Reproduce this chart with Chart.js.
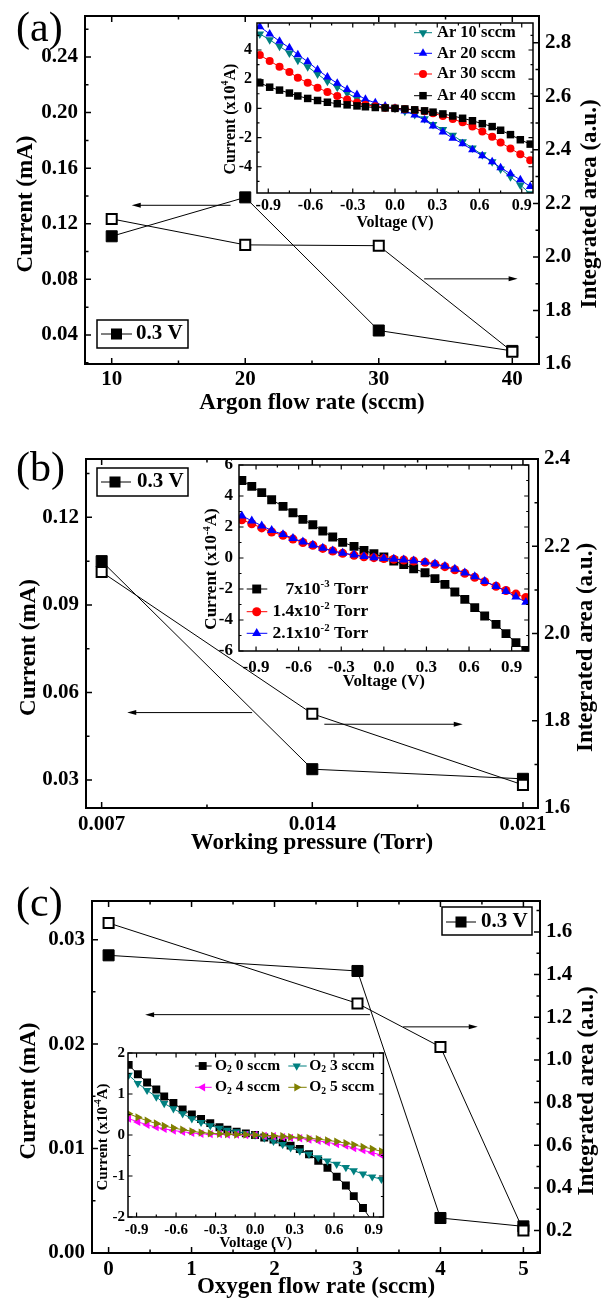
<!DOCTYPE html>
<html>
<head>
<meta charset="utf-8">
<title>Current and integrated area vs deposition conditions</title>
<script src="https://cdn.jsdelivr.net/npm/chart.js@4.4.1/dist/chart.umd.min.js"></script>
<style>
  body { margin: 0; background: #fff; }
  #page { position: relative; width: 612px; height: 1301px; overflow: hidden; background: #fff; }
  canvas { position: absolute; }
  .tag { position: absolute; font: 42px/42px "Liberation Serif", "Times New Roman", serif; color: #000; }
</style>
</head>
<body>
<div id="page">
  <canvas id="mainA" width="612" height="420" style="left:0;top:0"></canvas>
  <canvas id="insetA" width="340" height="219" style="left:200px;top:15px"></canvas>
  <canvas id="mainB" width="612" height="440" style="left:0;top:420px"></canvas>
  <canvas id="insetB" width="355" height="239" style="left:180px;top:455px"></canvas>
  <canvas id="mainC" width="612" height="441" style="left:0;top:860px"></canvas>
  <canvas id="insetC" width="309" height="208" style="left:80px;top:1045px"></canvas>
  <div class="tag" style="left:16px;top:6px">(a)</div>
  <div class="tag" style="left:16px;top:446px">(b)</div>
  <div class="tag" style="left:16px;top:881px">(c)</div>
</div>
<script>
// (a) argon flow rate
const argonFlow = [10, 20, 30, 40];
const argonCurrent = [0.111, 0.139, 0.0432, 0.0285];
const argonArea = [2.142, 2.045, 2.042, 1.646];
const argonXTicks = [10, 20, 30, 40];
const argonYTicks = [0.04, 0.08, 0.12, 0.16, 0.20, 0.24];
const argonY2Ticks = [1.6, 1.8, 2.0, 2.2, 2.4, 2.6, 2.8];

// (b) working pressure
const pressure = [0.007, 0.014, 0.021];
const pressureCurrent = [0.105, 0.0337, 0.0304];
const pressureArea = [2.141, 1.816, 1.653];
const pressureXTicks = [0.007, 0.014, 0.021];
const pressureYTicks = [0.03, 0.06, 0.09, 0.12];
const pressureY2Ticks = [1.6, 1.8, 2.0, 2.2, 2.4];

// (c) oxygen flow rate
const oxygenFlow = [0, 3, 4, 5];
const oxygenCurrent = [0.0285, 0.027, 0.00335, 0.00255];
const oxygenArea = [1.642, 1.265, 1.061, 0.2];
const oxygenXTicks = [0, 1, 2, 3, 4, 5];
const oxygenYTicks = [0, 0.01, 0.02, 0.03];
const oxygenY2Ticks = [0.2, 0.4, 0.6, 0.8, 1.0, 1.2, 1.4, 1.6];

// inset I-V curves
const voltsAC = [-0.96, -0.89, -0.82, -0.75, -0.69, -0.62, -0.55, -0.48, -0.41, -0.34, -0.27, -0.21, -0.14, -0.07, 0,
  0.07, 0.14, 0.21, 0.27, 0.34, 0.41, 0.48, 0.55, 0.62, 0.69, 0.75, 0.82, 0.89, 0.96];
const voltsB = [-1.0, -0.93, -0.86, -0.79, -0.71, -0.64, -0.57, -0.5, -0.43, -0.36, -0.29, -0.21, -0.14, -0.07, 0,
  0.07, 0.14, 0.21, 0.29, 0.36, 0.43, 0.5, 0.57, 0.64, 0.71, 0.79, 0.86, 0.93, 1.0];

const ar10 = [5.1, 4.7, 4.25, 3.8, 3.3, 2.85, 2.35, 1.85, 1.45, 1.05, 0.68, 0.36, 0.17, 0.07, 0,
  -0.2, -0.42, -0.72, -1.1, -1.45, -1.85, -2.28, -2.72, -3.18, -3.65, -4.15, -4.68, -5.25, -5.85];
const ar20 = [5.6, 5.1, 4.6, 4.15, 3.68, 3.2, 2.65, 2.15, 1.72, 1.3, 0.95, 0.62, 0.38, 0.16, 0,
  -0.18, -0.45, -0.8, -1.2, -1.62, -2.05, -2.43, -2.84, -3.25, -3.66, -4.07, -4.48, -4.9, -5.35];
const ar30 = [3.65, 3.25, 2.85, 2.5, 2.1, 1.75, 1.42, 1.12, 0.85, 0.6, 0.4, 0.25, 0.14, 0.05, 0,
  -0.05, -0.11, -0.2, -0.34, -0.52, -0.73, -0.96, -1.25, -1.58, -1.95, -2.34, -2.75, -3.15, -3.55];
const ar40 = [1.75, 1.45, 1.25, 1.05, 0.85, 0.68, 0.54, 0.42, 0.32, 0.24, 0.17, 0.11, 0.06, 0.03, 0,
  -0.04, -0.1, -0.17, -0.26, -0.38, -0.52, -0.68, -0.85, -1.05, -1.25, -1.5, -1.8, -2.15, -2.45];

const torr7e3 = [5.0, 4.62, 4.22, 3.76, 3.33, 2.92, 2.49, 2.15, 1.74, 1.35, 1.01, 0.75, 0.49, 0.28, 0.06,
  -0.19, -0.43, -0.69, -0.95, -1.33, -1.7, -2.19, -2.67, -3.2, -3.74, -4.28, -4.88, -5.46, -5.96];
const torr14e3 = [2.47, 2.21, 1.94, 1.68, 1.46, 1.22, 1.0, 0.82, 0.62, 0.45, 0.3, 0.18, 0.08, 0.02, -0.03,
  -0.08, -0.13, -0.19, -0.28, -0.4, -0.56, -0.76, -0.99, -1.24, -1.53, -1.82, -2.1, -2.33, -2.55];
const torr21e3 = [2.72, 2.4, 2.08, 1.78, 1.52, 1.27, 1.04, 0.84, 0.64, 0.46, 0.32, 0.2, 0.1, 0.03, -0.02,
  -0.07, -0.12, -0.18, -0.27, -0.38, -0.53, -0.72, -0.95, -1.2, -1.5, -1.83, -2.15, -2.5, -2.85];

const o2s0 = [1.71, 1.48, 1.28, 1.11, 0.94, 0.78, 0.62, 0.5, 0.39, 0.29, 0.19, 0.13, 0.08, 0.04, 0,
  -0.06, -0.11, -0.18, -0.26, -0.34, -0.47, -0.63, -0.8, -1.02, -1.23, -1.49, -1.78, -2.1, -2.45];
const o2s3 = [1.46, 1.26, 1.09, 0.93, 0.77, 0.64, 0.52, 0.4, 0.31, 0.23, 0.17, 0.12, 0.08, 0.04, 0,
  -0.07, -0.15, -0.23, -0.31, -0.39, -0.47, -0.55, -0.63, -0.71, -0.79, -0.87, -0.95, -1.02, -1.08];
const o2s4 = [0.4, 0.32, 0.25, 0.19, 0.15, 0.11, 0.08, 0.05, 0.03, 0.02, 0.02, 0.01, 0.01, 0, 0,
  -0.02, -0.03, -0.05, -0.07, -0.08, -0.11, -0.14, -0.18, -0.22, -0.26, -0.32, -0.37, -0.43, -0.49];
const o2s5 = [0.52, 0.43, 0.35, 0.28, 0.22, 0.17, 0.13, 0.09, 0.06, 0.04, 0.03, 0.02, 0.01, 0.01, 0,
  -0.01, -0.02, -0.03, -0.05, -0.06, -0.08, -0.1, -0.13, -0.16, -0.2, -0.24, -0.29, -0.34, -0.4];

const voltTicks = [-0.9, -0.6, -0.3, 0, 0.3, 0.6, 0.9];
const ivTicksA = [-4, -2, 0, 2, 4];
const ivTicksB = [-6, -4, -2, 0, 2, 4, 6];
const ivTicksC = [-2, -1, 0, 1, 2];

Chart.defaults.font.family = '"Liberation Serif", "Times New Roman", serif';
Chart.defaults.font.weight = 'bold';
Chart.defaults.color = '#000';

const FONT = '"Liberation Serif", "Times New Roman", serif';

// text with sub/superscripts, parts = [[text, 'sup'|'sub'], ...]
function rich(ctx, parts, x, y, size, align, rot) {
  ctx.save();
  ctx.translate(x, y);
  ctx.rotate(rot || 0);
  let w = 0;
  const items = parts.map(([t, k]) => {
    const s = k ? size * 0.62 : size;
    ctx.font = `bold ${s}px ${FONT}`;
    const wi = ctx.measureText(t).width;
    w += wi;
    return { t, k, s, wi };
  });
  let cx = align === 'left' ? 0 : align === 'right' ? -w : -w / 2;
  ctx.textBaseline = 'middle';
  ctx.textAlign = 'left';
  ctx.fillStyle = '#000';
  items.forEach(it => {
    ctx.font = `bold ${it.s}px ${FONT}`;
    const dy = it.k === 'sup' ? -size * 0.3 : it.k === 'sub' ? size * 0.25 : 0;
    ctx.fillText(it.t, cx, dy);
    cx += it.wi;
  });
  ctx.restore();
}

function mark(ctx, style, x, y, r, rot, color) {
  ctx.save();
  ctx.fillStyle = color;
  ctx.beginPath();
  if (style === 'rect') {
    const h = r * Math.SQRT1_2;
    ctx.rect(x - h, y - h, 2 * h, 2 * h);
  } else if (style === 'circle') {
    ctx.arc(x, y, r, 0, Math.PI * 2);
  } else {
    let ang = (rot || 0) * Math.PI / 180;
    ctx.moveTo(x + Math.sin(ang) * r, y - Math.cos(ang) * r);
    for (let i = 0; i < 2; i++) {
      ang += Math.PI * 2 / 3;
      ctx.lineTo(x + Math.sin(ang) * r, y - Math.cos(ang) * r);
    }
    ctx.closePath();
  }
  ctx.fill();
  ctx.restore();
}

function arrow(ctx, x1, y, x2) {
  const d = Math.sign(x2 - x1);
  ctx.lineWidth = 1;
  ctx.beginPath();
  ctx.moveTo(x1, y);
  ctx.lineTo(x2 - d * 5, y);
  ctx.stroke();
  ctx.beginPath();
  ctx.moveTo(x2, y);
  ctx.lineTo(x2 - d * 9, y - 2.5);
  ctx.lineTo(x2 - d * 9, y + 2.5);
  ctx.closePath();
  ctx.fill();
}

const majorsOf = scale => scale.ticks.map(t => t.value);
function minorsOf(scale) {
  const m = majorsOf(scale), step = m[1] - m[0], out = [];
  for (let v = m[0] - step / 2; v <= scale.max + 1e-9; v += step) {
    if (v >= scale.min - 1e-9) out.push(v);
  }
  return out;
}

// box frame with inward ticks on all four sides
const frame = {
  id: 'frame',
  afterDatasetsDraw(chart, args, o) {
    const { ctx, chartArea: a, scales: s } = chart;
    const yR = s.y2 || s.y;
    ctx.save();
    ctx.strokeStyle = '#000';
    ctx.lineWidth = o.tickWidth;
    ctx.beginPath();
    [[o.major, majorsOf], [o.minor, minorsOf]].forEach(([len, pick]) => {
      pick(s.x).forEach(v => {
        const px = s.x.getPixelForValue(v);
        ctx.moveTo(px, a.bottom); ctx.lineTo(px, a.bottom - len);
        ctx.moveTo(px, a.top); ctx.lineTo(px, a.top + len);
      });
      pick(s.y).forEach(v => {
        const py = s.y.getPixelForValue(v);
        ctx.moveTo(a.left, py); ctx.lineTo(a.left + len, py);
      });
      pick(yR).forEach(v => {
        const py = yR.getPixelForValue(v);
        ctx.moveTo(a.right, py); ctx.lineTo(a.right - len, py);
      });
    });
    ctx.stroke();
    ctx.lineWidth = o.lw;
    ctx.strokeRect(a.left, a.top, a.right - a.left, a.bottom - a.top);
    ctx.restore();
  }
};

// titles, arrows, legend keys
const decor = {
  id: 'decor',
  afterDraw(chart, args, o) {
    const { ctx, chartArea: a, scales: s } = chart;
    ctx.save();
    ctx.fillStyle = '#000';
    ctx.strokeStyle = '#000';
    (o.titles || []).forEach(t => {
      const y = t.y !== undefined ? t.y : (a.top + a.bottom) / 2 + (t.dy || 0);
      rich(ctx, t.parts, t.x, y, t.size, 'center', -Math.PI / 2);
    });
    (o.arrows || []).forEach(ar => {
      arrow(ctx, s.x.getPixelForValue(ar.from), s[ar.axis].getPixelForValue(ar.at), s.x.getPixelForValue(ar.to));
    });
    if (o.box) {
      ctx.lineWidth = 1.5;
      ctx.strokeRect(...o.box);
    }
    (o.keys || []).forEach(k => {
      ctx.strokeStyle = k.color;
      ctx.lineWidth = 1;
      ctx.beginPath();
      ctx.moveTo(k.x1, k.y);
      ctx.lineTo(k.x2, k.y);
      ctx.stroke();
      mark(ctx, k.style, k.mx, k.y, k.r, k.rot, k.color);
      rich(ctx, k.parts, k.tx, k.y, k.size, k.align || 'left', 0);
    });
    ctx.restore();
  }
};

function axis(range, ticks, fmt, size, pad, fit, extra) {
  return Object.assign({
    type: 'linear',
    min: range[0],
    max: range[1],
    afterBuildTicks: sc => { sc.ticks = ticks.map(v => ({ value: v })); },
    afterFit: sc => {
      fit(sc);
      sc.paddingLeft = sc.paddingRight = sc.paddingTop = sc.paddingBottom = 0;
    },
    grid: { display: false, drawTicks: false },
    border: { display: false },
    ticks: { autoSkip: false, maxRotation: 0, minRotation: 0, padding: pad, font: { size }, callback: fmt }
  }, extra || {});
}

const pts = (xs, ys) => xs.map((x, i) => ({ x, y: ys[i] }));

function mainChart(p) {
  return new Chart(document.getElementById(p.id), {
    type: 'scatter',
    data: {
      datasets: [
        {
          label: 'Integrated area', data: pts(p.xs, p.area), yAxisID: 'y2', order: -1,
          showLine: true, borderColor: '#000', borderWidth: 1, tension: 0,
          pointStyle: 'rect', pointRadius: 7.1, pointBorderWidth: 2,
          pointBackgroundColor: '#fff', pointBorderColor: '#000'
        },
        {
          label: '0.3 V', data: pts(p.xs, p.current), yAxisID: 'y', order: 0,
          showLine: true, borderColor: '#000', borderWidth: 1, tension: 0,
          pointStyle: 'rect', pointRadius: 7.8, pointBorderWidth: 1,
          pointBackgroundColor: '#000', pointBorderColor: '#000'
        }
      ]
    },
    options: {
      responsive: false, animation: false, devicePixelRatio: 1, events: [],
      layout: { padding: { top: p.top, left: 0, right: 0, bottom: 0 } },
      plugins: {
        legend: { display: false },
        tooltip: { enabled: false },
        frame: { lw: 2, tickWidth: 1.5, major: 6, minor: 3.5 },
        decor: {
          titles: [
            { parts: [['Current (mA)']], x: p.leftX, dy: 14, size: 23 },
            { parts: [['Integrated area (a.u.)']], x: p.rightX, dy: 14, size: 23 }
          ],
          arrows: p.arrows,
          box: p.box,
          keys: [Object.assign({ color: '#000', style: 'rect', r: 7.8, rot: 0, parts: [['0.3 V']], size: 21 }, p.key)]
        }
      },
      scales: {
        x: axis(p.xRange, p.xTicks, p.xFmt, 21, p.xPad, sc => { sc.height = p.xH; }, {
          title: { display: true, text: p.xTitle, font: { size: 23 }, padding: { top: 0, bottom: p.titlePad } }
        }),
        y: axis(p.yRange, p.yTicks, v => v.toFixed(2), 21, 7, sc => { sc.width = p.yW; }, { position: 'left' }),
        y2: axis(p.y2Range, p.y2Ticks, v => v.toFixed(1), 21, 6, sc => { sc.width = p.y2W; }, { position: 'right' })
      }
    },
    plugins: [frame, decor]
  });
}

function insetChart(p) {
  const n = p.series.length;
  return new Chart(document.getElementById(p.id), {
    type: 'scatter',
    data: {
      datasets: p.series.map((sr, i) => ({
        label: sr.label, data: pts(p.volts, sr.ys), order: -i, clip: 0,
        showLine: true, borderColor: sr.color, borderWidth: 1, tension: 0,
        pointStyle: sr.style, pointRotation: sr.rot, pointRadius: sr.r, pointBorderWidth: 0,
        pointBackgroundColor: sr.color, pointBorderColor: sr.color
      }))
    },
    options: {
      responsive: false, animation: false, devicePixelRatio: 1, events: [],
      layout: { padding: { top: p.top, right: p.right, left: 0, bottom: 0 } },
      plugins: {
        legend: { display: false },
        tooltip: { enabled: false },
        frame: { lw: 1.5, tickWidth: 1.2, major: 4.5, minor: 2.5 },
        decor: {
          titles: [Object.assign({ size: p.font }, p.ytitle)],
          keys: p.series.map((sr, i) => Object.assign({
            color: sr.color, style: sr.style, r: sr.r, rot: sr.rot, parts: sr.key, size: p.keyFont
          }, p.keyPos[i]))
        }
      },
      scales: {
        x: axis(p.xRange, voltTicks, v => v.toFixed(1), p.font, p.xPad, sc => { sc.height = p.xH; }, {
          title: { display: true, text: 'Voltage (V)', font: { size: p.font }, padding: { top: 0, bottom: p.titlePad } }
        }),
        y: axis(p.yRange, p.yTicks, v => String(v), p.font, p.yPad, sc => { sc.width = p.yW; }, { position: 'left' })
      }
    },
    plugins: [frame, decor]
  });
}

mainChart({
  id: 'mainA', top: 16, xH: 56, yW: 85, y2W: 73, xPad: 3, titlePad: 3,
  xs: argonFlow, current: argonCurrent, area: argonArea,
  xRange: [8, 42], yRange: [0.0191, 0.2695], y2Range: [1.6, 2.9],
  xTicks: argonXTicks, yTicks: argonYTicks, y2Ticks: argonY2Ticks, xFmt: v => String(v),
  xTitle: 'Argon flow rate (sccm)', leftX: 26, rightX: 590,
  arrows: [{ axis: 'y', at: 0.1333, from: 18.9, to: 11.5 }, { axis: 'y2', at: 1.918, from: 33.4, to: 40.4 }],
  box: [97, 320, 91, 28], key: { y: 334, x1: 101, x2: 132, mx: 116.5, tx: 136 }
});

mainChart({
  id: 'mainB', top: 39, xH: 52, yW: 86, y2W: 74, xPad: 4, titlePad: 3,
  xs: pressure, current: pressureCurrent, area: pressureArea,
  xRange: [0.00648, 0.0215], yRange: [0.0204, 0.14], y2Range: [1.6, 2.4],
  xTicks: pressureXTicks, yTicks: pressureYTicks, y2Ticks: pressureY2Ticks, xFmt: v => v.toFixed(3),
  xTitle: 'Working pressure (Torr)', leftX: 29, rightX: 586,
  arrows: [{ axis: 'y', at: 0.0531, from: 0.0120, to: 0.00785 }, { axis: 'y2', at: 1.792, from: 0.0144, to: 0.0190 }],
  box: [97, 48, 91, 28], key: { y: 62, x1: 101, x2: 131, mx: 115, tx: 137 }
});

mainChart({
  id: 'mainC', top: 41, xH: 48, yW: 92, y2W: 72, xPad: 4, titlePad: 0,
  xs: oxygenFlow, current: oxygenCurrent, area: oxygenArea,
  xRange: [-0.2, 5.2], yRange: [0, 0.0337], y2Range: [0.095, 1.745],
  xTicks: oxygenXTicks, yTicks: oxygenYTicks, y2Ticks: oxygenY2Ticks, xFmt: v => String(v),
  xTitle: 'Oxygen flow rate (sccm)', leftX: 29.4, rightX: 587,
  arrows: [{ axis: 'y', at: 0.02282, from: 3.15, to: 0.44 }, { axis: 'y2', at: 1.155, from: 3.55, to: 4.45 }],
  box: [442, 47, 90, 28], key: { y: 62, x1: 446, x2: 476, mx: 461, tx: 481 }
});

insetChart({
  id: 'insetA', top: 8, right: 7, yW: 57, xH: 41, font: 16, keyFont: 16.5, xPad: 3, yPad: 5, titlePad: 2,
  xRange: [-0.98, 0.98], yRange: [-5.8, 5.85], yTicks: ivTicksA, volts: voltsAC,
  series: [
    { label: 'Ar 10 sccm', ys: ar10, color: '#008080', style: 'triangle', rot: 180, r: 5, key: [['Ar 10 sccm']] },
    { label: 'Ar 20 sccm', ys: ar20, color: '#0000ff', style: 'triangle', rot: 0, r: 5, key: [['Ar 20 sccm']] },
    { label: 'Ar 30 sccm', ys: ar30, color: '#ff0000', style: 'circle', rot: 0, r: 4, key: [['Ar 30 sccm']] },
    { label: 'Ar 40 sccm', ys: ar40, color: '#000000', style: 'rect', rot: 0, r: 5.3, key: [['Ar 40 sccm']] }
  ],
  keyPos: [
    { y: 17.7, x1: 214, x2: 232, mx: 223, tx: 237 },
    { y: 38.3, x1: 214, x2: 232, mx: 223, tx: 237 },
    { y: 59, x1: 214, x2: 232, mx: 223, tx: 237 },
    { y: 80.7, x1: 214, x2: 232, mx: 223, tx: 237 }
  ],
  ytitle: { parts: [['Current (x10'], ['4', 'sup'], ['A)']], x: 30.5, y: 104 }
});

insetChart({
  id: 'insetB', top: 10, right: 5, yW: 59, xH: 43, font: 17, keyFont: 17.5, xPad: 6, yPad: 6, titlePad: 2,
  xRange: [-1.02, 1.02], yRange: [-6, 6], yTicks: ivTicksB, volts: voltsB,
  series: [
    { label: '7x10-3 Torr', ys: torr7e3, color: '#000000', style: 'rect', rot: 0, r: 6.3, key: [['7x10'], ['-3', 'sup'], [' Torr']] },
    { label: '1.4x10-2 Torr', ys: torr14e3, color: '#ff0000', style: 'circle', rot: 0, r: 4.5, key: [['1.4x10'], ['-2', 'sup'], [' Torr']] },
    { label: '2.1x10-2 Torr', ys: torr21e3, color: '#0000ff', style: 'triangle', rot: 0, r: 5.3, key: [['2.1x10'], ['-2', 'sup'], [' Torr']] }
  ],
  keyPos: [
    { y: 134, x1: 66.7, x2: 87.3, mx: 76.7, tx: 188.3, align: 'right' },
    { y: 156.7, x1: 66.7, x2: 87.3, mx: 76.7, tx: 188.3, align: 'right' },
    { y: 178.3, x1: 66.7, x2: 87.3, mx: 76.7, tx: 188.3, align: 'right' }
  ],
  ytitle: { parts: [['Current (x10'], ['-4', 'sup'], ['A)']], x: 32, y: 114 }
});

insetChart({
  id: 'insetC', top: 8, right: 5, yW: 48, xH: 36, font: 15, keyFont: 15.5, xPad: 4, yPad: 3, titlePad: 1,
  xRange: [-0.965, 0.975], yRange: [-2, 2], yTicks: ivTicksC, volts: voltsAC,
  series: [
    { label: 'O2 0 sccm', ys: o2s0, color: '#000000', style: 'rect', rot: 0, r: 5.6, key: [['O'], ['2', 'sub'], [' 0 sccm']] },
    { label: 'O2 3 sccm', ys: o2s3, color: '#008080', style: 'triangle', rot: 180, r: 4.8, key: [['O'], ['2', 'sub'], [' 3 sccm']] },
    { label: 'O2 4 sccm', ys: o2s4, color: '#ff00ff', style: 'triangle', rot: 270, r: 4.8, key: [['O'], ['2', 'sub'], [' 4 sccm']] },
    { label: 'O2 5 sccm', ys: o2s5, color: '#808000', style: 'triangle', rot: 90, r: 4.8, key: [['O'], ['2', 'sub'], [' 5 sccm']] }
  ],
  keyPos: [
    { y: 21, x1: 115, x2: 131.7, mx: 122.7, tx: 135 },
    { y: 21, x1: 208.3, x2: 226.7, mx: 216.7, tx: 229.3 },
    { y: 42.3, x1: 115, x2: 131.7, mx: 122.7, tx: 135 },
    { y: 42.3, x1: 208.3, x2: 226.7, mx: 216.7, tx: 229.3 }
  ],
  ytitle: { parts: [['Current (x10'], ['-4', 'sup'], ['A)']], x: 23.5, y: 92 }
});
</script>
</body>
</html>
